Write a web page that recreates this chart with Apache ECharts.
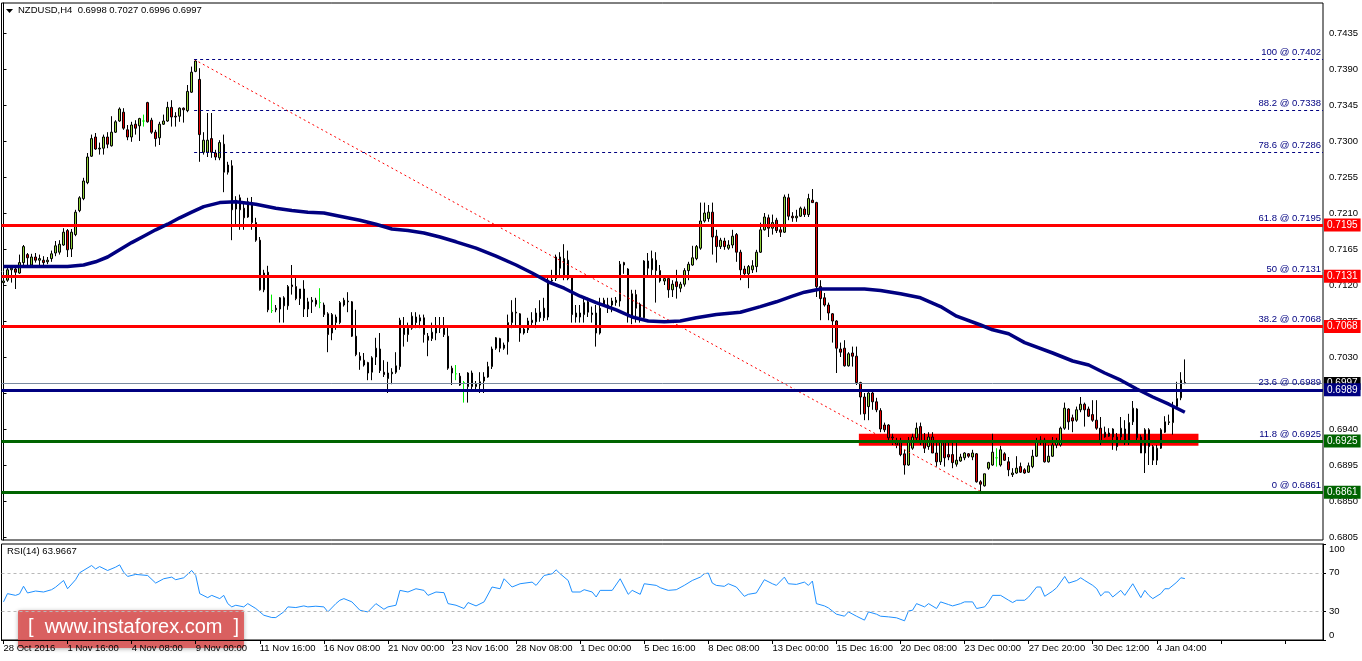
<!DOCTYPE html>
<html><head><meta charset="utf-8">
<script src="https://cdn.jsdelivr.net/npm/echarts@6/dist/echarts.min.js"></script>
<style>html,body{margin:0;padding:0;background:#fff}#c{width:1362px;height:661px}</style>
</head><body><div id="c"></div>
<script>
// ---- DATA ----
const opens = [.7123,.7126,.7139,.7140,.7135,.7148,.7158,.7145,.7155,.7151,.7151,.7149,.7153,.7160,.7161,.7170,.7188,.7165,.7183,.7213,.7228,.7248,.7281,.7305,.7290,.7291,.7305,.7294,.7311,.7325,.7336,.7314,.7305,.7321,.7319,.7325,.7348,.7326,.7311,.7304,.7321,.7325,.7342,.7331,.7331,.7341,.7338,.7361,.7387,.7377,.7286,.7286,.7303,.7285,.7279,.7296,.7261,.7269,.7215,.7229,.7216,.7205,.7223,.7198,.7176,.7114,.7136,.7088,.7089,.7090,.7104,.7094,.7120,.7118,.7103,.7115,.7090,.7099,.7101,.7098,.7095,.7084,.7083,.7073,.7073,.7095,.7099,.7099,.7056,.7031,.7026,.7023,.7011,.7030,.7040,.7011,.7003,.7009,.7011,.7018,.7068,.7058,.7066,.7080,.7079,.7079,.7056,.7053,.7060,.7069,.7066,.7056,.7016,.7009,.7006,.6998,.6993,.7010,.6993,.6995,.7000,.7005,.7018,.7041,.7053,.7041,.7049,.7073,.7086,.7084,.7060,.7064,.7073,.7074,.7086,.7079,.7080,.7126,.7128,.7155,.7130,.7151,.7129,.7080,.7085,.7083,.7099,.7085,.7085,.7060,.7095,.7091,.7095,.7098,.7100,.7148,.7140,.7081,.7108,.7096,.7079,.7150,.7139,.7151,.7138,.7125,.7128,.7114,.7124,.7116,.7121,.7138,.7145,.7153,.7166,.7200,.7203,.7211,.7181,.7168,.7175,.7166,.7170,.7183,.7161,.7140,.7134,.7139,.7143,.7161,.7189,.7204,.7191,.7201,.7189,.7186,.7229,.7206,.7204,.7206,.7215,.7208,.7226,.7223,.7118,.7104,.7095,.7084,.7075,.7040,.7041,.7019,.7035,.7031,.6998,.6980,.6968,.6985,.6974,.6963,.6945,.6945,.6930,.6925,.6923,.6909,.6895,.6916,.6929,.6943,.6924,.6918,.6930,.6910,.6899,.6923,.6908,.6908,.6896,.6900,.6904,.6909,.6905,.6909,.6874,.6869,.6891,.6895,.6904,.6895,.6909,.6899,.6883,.6885,.6893,.6889,.6886,.6893,.6906,.6923,.6926,.6899,.6906,.6920,.6920,.6941,.6965,.6954,.6951,.6964,.6971,.6965,.6958,.6951,.6941,.6930,.6935,.6930,.6930,.6930,.6923,.6923,.6949,.6965,.6930,.6910,.6939,.6918,.6901,.6916,.6936,.6948,.6948,.6968,.6979,.6998];
const highs = [.7129,.7145,.7144,.7145,.7158,.7170,.7160,.7159,.7160,.7158,.7156,.7155,.7163,.7175,.7176,.7191,.7190,.7190,.7214,.7231,.7254,.7285,.7308,.7310,.7298,.7308,.7311,.7331,.7326,.7342,.7341,.7320,.7324,.7326,.7329,.7333,.7349,.7329,.7314,.7324,.7333,.7349,.7351,.7336,.7342,.7342,.7370,.7393,.7402,.7391,.7311,.7335,.7335,.7289,.7301,.7308,.7274,.7276,.7231,.7233,.7223,.7229,.7230,.7204,.7180,.7139,.7144,.7108,.7095,.7105,.7106,.7120,.7145,.7130,.7114,.7126,.7104,.7105,.7104,.7116,.7098,.7086,.7085,.7083,.7100,.7104,.7111,.7100,.7089,.7036,.7035,.7024,.7031,.7054,.7060,.7026,.7024,.7016,.7036,.7079,.7080,.7073,.7086,.7086,.7083,.7083,.7060,.7073,.7080,.7080,.7080,.7068,.7019,.7020,.7010,.7000,.7011,.7013,.7000,.7011,.7011,.7024,.7043,.7055,.7054,.7048,.7083,.7101,.7104,.7085,.7068,.7079,.7086,.7091,.7101,.7104,.7131,.7139,.7158,.7161,.7171,.7163,.7130,.7095,.7095,.7104,.7104,.7093,.7095,.7104,.7104,.7104,.7104,.7105,.7150,.7149,.7141,.7114,.7114,.7098,.7151,.7160,.7163,.7161,.7145,.7130,.7130,.7126,.7139,.7124,.7141,.7149,.7169,.7170,.7223,.7223,.7220,.7223,.7189,.7179,.7179,.7176,.7189,.7185,.7164,.7144,.7145,.7151,.7164,.7198,.7210,.7208,.7208,.7204,.7193,.7233,.7234,.7211,.7214,.7218,.7218,.7234,.7240,.7224,.7126,.7110,.7098,.7085,.7076,.7048,.7051,.7036,.7043,.7043,.6999,.6985,.6986,.6989,.6979,.6966,.6948,.6946,.6934,.6929,.6929,.6914,.6930,.6934,.6948,.6948,.6935,.6936,.6936,.6923,.6924,.6926,.6923,.6924,.6924,.6909,.6911,.6910,.6914,.6910,.6876,.6884,.6899,.6934,.6916,.6919,.6911,.6905,.6891,.6906,.6898,.6891,.6898,.6914,.6929,.6931,.6929,.6920,.6930,.6929,.6943,.6973,.6966,.6958,.6968,.6980,.6973,.6968,.6976,.6976,.6955,.6943,.6941,.6941,.6935,.6955,.6951,.6959,.6975,.6966,.6933,.6941,.6941,.6920,.6920,.6941,.6956,.6958,.6974,.6999,.7011,.7027];
const lows = [.7118,.7124,.7123,.7115,.7134,.7145,.7144,.7144,.7148,.7145,.7144,.7146,.7149,.7156,.7158,.7169,.7155,.7155,.7181,.7211,.7226,.7246,.7280,.7289,.7283,.7283,.7291,.7293,.7310,.7324,.7314,.7301,.7299,.7308,.7300,.7318,.7323,.7309,.7293,.7295,.7320,.7324,.7318,.7318,.7324,.7323,.7336,.7360,.7386,.7274,.7283,.7280,.7279,.7276,.7276,.7236,.7258,.7176,.7195,.7189,.7189,.7204,.7189,.7174,.7113,.7111,.7086,.7085,.7086,.7073,.7073,.7089,.7108,.7101,.7095,.7080,.7080,.7085,.7093,.7091,.7080,.7036,.7051,.7064,.7071,.7093,.7086,.7055,.7031,.7014,.7018,.7001,.7001,.7020,.7010,.7005,.6985,.6996,.7009,.7014,.7043,.7049,.7064,.7066,.7066,.7048,.7031,.7050,.7051,.7060,.7055,.7014,.6995,.7001,.6994,.6973,.6973,.6990,.6989,.6985,.6985,.7004,.7015,.7039,.7036,.7039,.7033,.7066,.7068,.7049,.7058,.7060,.7070,.7066,.7074,.7075,.7076,.7120,.7125,.7129,.7126,.7126,.7073,.7073,.7073,.7073,.7080,.7073,.7043,.7058,.7093,.7085,.7086,.7094,.7093,.7134,.7073,.7071,.7073,.7073,.7076,.7130,.7130,.7098,.7123,.7120,.7104,.7105,.7103,.7111,.7118,.7126,.7144,.7151,.7164,.7198,.7199,.7158,.7148,.7165,.7164,.7164,.7166,.7149,.7126,.7130,.7116,.7135,.7136,.7160,.7188,.7180,.7183,.7185,.7180,.7185,.7201,.7199,.7199,.7205,.7205,.7205,.7223,.7105,.7076,.7093,.7076,.7048,.7010,.7030,.7018,.7018,.7018,.6995,.6958,.6951,.6951,.6964,.6961,.6936,.6936,.6926,.6920,.6916,.6906,.6883,.6894,.6914,.6926,.6920,.6910,.6914,.6910,.6893,.6895,.6893,.6901,.6891,.6893,.6899,.6901,.6904,.6901,.6873,.6861,.6868,.6889,.6894,.6893,.6893,.6900,.6881,.6880,.6884,.6885,.6884,.6885,.6891,.6905,.6920,.6898,.6898,.6905,.6916,.6918,.6939,.6939,.6936,.6949,.6961,.6943,.6955,.6949,.6939,.6920,.6929,.6930,.6914,.6913,.6923,.6920,.6920,.6945,.6926,.6910,.6885,.6895,.6895,.6895,.6915,.6935,.6945,.6933,.6966,.6976,.6996];
const closes = [.7125,.7139,.7141,.7136,.7148,.7168,.7154,.7155,.7151,.7153,.7148,.7151,.7159,.7169,.7171,.7186,.7164,.7186,.7211,.7229,.7250,.7280,.7303,.7290,.7291,.7305,.7296,.7311,.7324,.7340,.7316,.7305,.7320,.7316,.7328,.7325,.7324,.7311,.7303,.7321,.7325,.7342,.7330,.7330,.7341,.7339,.7362,.7386,.7400,.7308,.7301,.7301,.7286,.7280,.7298,.7261,.7270,.7214,.7226,.7214,.7204,.7224,.7198,.7176,.7114,.7135,.7089,.7088,.7091,.7104,.7094,.7118,.7118,.7103,.7115,.7090,.7099,.7101,.7096,.7098,.7083,.7058,.7060,.7080,.7098,.7101,.7100,.7056,.7033,.7026,.7020,.7010,.7029,.7041,.7013,.7008,.7010,.7011,.7019,.7076,.7058,.7066,.7081,.7073,.7075,.7058,.7051,.7061,.7068,.7066,.7058,.7016,.7010,.7009,.6995,.6998,.7010,.6993,.6996,.6999,.7005,.7018,.7040,.7054,.7041,.7045,.7073,.7086,.7085,.7060,.7065,.7075,.7076,.7085,.7079,.7091,.7126,.7125,.7155,.7141,.7153,.7128,.7083,.7085,.7080,.7098,.7086,.7083,.7060,.7091,.7101,.7095,.7100,.7101,.7146,.7145,.7080,.7109,.7091,.7080,.7150,.7141,.7153,.7138,.7125,.7128,.7114,.7121,.7118,.7121,.7138,.7146,.7154,.7168,.7200,.7210,.7211,.7180,.7168,.7176,.7168,.7170,.7181,.7161,.7139,.7134,.7143,.7144,.7161,.7189,.7205,.7191,.7198,.7188,.7186,.7230,.7206,.7204,.7206,.7216,.7208,.7228,.7223,.7118,.7103,.7095,.7085,.7075,.7041,.7036,.7019,.7034,.7031,.6998,.6980,.6959,.6985,.6974,.6964,.6940,.6939,.6929,.6929,.6920,.6908,.6895,.6924,.6930,.6941,.6923,.6916,.6930,.6910,.6899,.6923,.6904,.6905,.6898,.6901,.6905,.6910,.6906,.6910,.6874,.6871,.6884,.6898,.6911,.6904,.6914,.6901,.6889,.6885,.6891,.6886,.6885,.6894,.6906,.6924,.6926,.6899,.6906,.6920,.6924,.6941,.6966,.6949,.6950,.6964,.6971,.6964,.6956,.6951,.6941,.6923,.6936,.6931,.6940,.6918,.6941,.6940,.6948,.6966,.6929,.6910,.6939,.6918,.6901,.6916,.6939,.6949,.6949,.6968,.6978,.7001,.6997];
// moving average: [bar, value]
const maPoints = [[0,.7143],[8,.7143],[16,.7143],[20,.7145],[23,.7149],[26,.7155],[29,.7164],[32,.7173],[35,.7181],[38,.7189],[41,.7196],[44,.7204],[47,.7211],[50,.7218],[54,.7223],[58,.7224],[63,.7221],[68,.7216],[72,.7213],[76,.7211],[80,.7210],[84,.7206],[89,.7201],[93,.7196],[97,.7190],[101,.7188],[105,.7185],[109,.7180],[113,.7174],[118,.7166],[123,.7156],[128,.7145],[132,.7135],[136,.7124],[140,.7116],[144,.7106],[148,.7098],[153,.7089],[157,.7080],[161,.7075],[165,.7074],[169,.7075],[173,.7079],[178,.7083],[184,.7086],[189,.7093],[193,.7099],[197,.7106],[200,.7111],[204,.7115],[209,.7115],[215,.7115],[219,.7113],[224,.7109],[229,.7104],[234,.7093],[238,.7081],[244,.7070],[247,.7064],[251,.7059],[255,.7048],[262,.7035],[267,.7025],[271,.7020],[275,.7010],[279,.7001],[283,.6990],[287,.6980],[291,.6971],[295,.6961]];
// RSI(14): [bar, value]
const rsiPoints = [[0,39.7],[1,48.3],[3,46.5],[4,48],[5,56],[6,49],[8,51],[10,50],[12,52.4],[13,55],[15,62],[16,53.4],[18,62.8],[19,70],[22,77.6],[23,74],[24,76.5],[26,72.4],[28,75.9],[29,78.3],[30,70.7],[31,66.2],[33,68.3],[36,67.2],[38,59.3],[40,63.8],[42,65.5],[43,62.8],[45,64.8],[47,72.4],[48,67.2],[49,48.3],[51,44.1],[52,46.5],[54,43.1],[55,46.5],[56,37.9],[57,34.5],[58,36.2],[60,34.5],[61,37.9],[63,32.8],[65,25.8],[67,23.4],[68,23.4],[70,29.3],[71,34.5],[73,33.8],[75,35.5],[76,34.5],[78,35.2],[80,34.5],[81,29.3],[83,37.9],[84,41.4],[85,43.1],[87,39.7],[89,31],[90,30],[91,29.3],[93,37.9],[95,32],[96,34.5],[98,36.2],[99,51.7],[101,50],[103,53.4],[105,51.7],[106,46.5],[108,50],[110,49.3],[111,37.9],[113,36.2],[115,32.8],[116,39],[118,35.5],[120,39.7],[122,55.2],[124,53.4],[125,63.8],[127,55.2],[129,58.6],[132,60.3],[133,56.9],[135,67.2],[137,69],[138,73.1],[139,69],[141,62],[142,50],[144,50],[145,52.4],[147,50],[148,44.8],[149,51.7],[152,51.7],[154,63.8],[156,47.6],[157,51.7],[159,47.6],[160,58.6],[163,56.9],[164,54.5],[166,51.7],[168,52.4],[170,56.9],[172,62],[174,65.5],[175,69],[176,69.7],[177,59.3],[178,56.9],[180,55.9],[181,58.6],[183,55.2],[185,45.5],[186,47.6],[188,49],[190,62.8],[192,58.6],[193,56.9],[195,65.5],[196,58.6],[198,57.9],[200,60.3],[201,56.9],[202,61.4],[203,37.9],[205,35.5],[206,33.4],[208,26.9],[210,24.8],[211,29.3],[213,24.8],[215,20.7],[216,29.3],[218,26.9],[219,24.8],[221,24.1],[223,23.1],[225,20],[226,30.3],[227,31],[228,37.9],[230,34.5],[231,37.9],[233,32.8],[234,39.7],[236,36.9],[237,35.5],[239,37.9],[240,39.7],[242,39.7],[243,32.8],[245,34.5],[246,39.7],[247,46.5],[249,46.5],[251,41.4],[252,39],[253,41.4],[255,41.4],[256,44.8],[258,55.2],[259,55.2],[260,45.5],[262,51],[263,54.5],[264,60.3],[265,66.2],[266,59.3],[268,62],[269,64.8],[270,62],[272,56.9],[273,53.4],[274,45.9],[275,50],[276,50],[277,44.8],[279,51.7],[280,46.5],[282,58.6],[284,44.1],[285,51.7],[286,46.5],[287,43.1],[289,48.3],[290,53.4],[291,53.4],[293,60.3],[294,64.8],[295,63.97]];
const xTickLabels = ['28 Oct 2016','1 Nov 16:00','4 Nov 08:00','9 Nov 00:00','11 Nov 16:00','16 Nov 08:00','21 Nov 00:00','23 Nov 16:00','28 Nov 08:00','1 Dec 00:00','5 Dec 16:00','8 Dec 08:00','13 Dec 00:00','15 Dec 16:00','20 Dec 08:00','23 Dec 00:00','27 Dec 20:00','30 Dec 12:00','4 Jan 04:00'];
const priceTicks = [0.6805,0.6850,0.6895,0.6940,0.6985,0.7030,0.7075,0.7120,0.7165,0.7210,0.7255,0.7300,0.7345,0.7390,0.7435];
const rsiTicks = [0,30,70,100];
const rsiLevels = [70,30];
const fibPct = ['100','88.2','78.6','61.8','50','38.2','23.6','11.8','0'];
const fibLevels = [0.7402,0.7338,0.7286,0.7195,0.7131,0.7068,0.6989,0.6925,0.6861];
const resistanceLevels = [0.7195,0.7131,0.7068];
const pivotLevel = 0.6989;
const supportLevels = [0.6925,0.6861];
const bidLevel = 0.6997;
const header = ['NZDUSD,H4', 0.6998, 0.7027, 0.6996, 0.6997];
const rsiLabel = 'RSI(14) 63.9667';
const zone = {fromBar: 213.6, toBar: 298.4, high: 0.6934, low: 0.6919};
const trend = [[47.6, 0.7402],[244.3, 0.6861]];
const watermark = '[  www.instaforex.com  ]';

// ---- CHART ----
const N = 330; // bar slots incl. empty space on the right
const cats = Array.from({length: N}, (_, i) => String(i));
const candles = opens.map((o, i) => [o, closes[i], lows[i], highs[i]]);
const FONT = 'Liberation Sans';
const f4 = v => Number(v).toFixed(4);
const txt = {fontFamily: FONT, fontSize: 9.5, color: '#000'};
const X0 = -0.5, X1 = N - 0.5;

// full-width horizontal level with a coloured price tag on the axis
const level = (v, color, width, bg) => [
  {coord: [X0, v], lineStyle: {color: color, width: width, type: 'solid'},
   label: {show: true, position: 'end', distance: 1, formatter: f4(v),
     backgroundColor: bg, color: '#fff', padding: [2, 3, 1, 3], fontFamily: FONT, fontSize: 10}},
  {coord: [X1, v]}
];
const levelLines = [];
levelLines.push(level(bidLevel, '#7a8aa0', 1, '#000'));
resistanceLevels.forEach(v => levelLines.push(level(v, '#ff0000', 3, '#ff0000')));
levelLines.push(level(pivotLevel, '#000080', 3, '#000080'));
supportLevels.forEach(v => levelLines.push(level(v, '#006400', 3, '#006400')));

const fibLines = fibLevels.map((v, k) => [
  {coord: [trend[0][0], v], lineStyle: {color: '#000080', width: 1, type: [3, 3]},
   label: {show: true, position: 'insideEndTop', distance: 2, formatter: fibPct[k] + ' @ ' + f4(v),
     color: '#000080', fontFamily: FONT, fontSize: 9.5}},
  {coord: [X1, v]}
]);

const option = {
  animation: false,
  backgroundColor: '#fff',
  grid: [
    {left: 1.5, top: 3, width: 1321.5, height: 537, show: true, borderColor: '#000', borderWidth: 1, backgroundColor: '#fff'},
    {left: 1.5, top: 544, width: 1321.5, height: 96, show: true, borderColor: '#000', borderWidth: 1, backgroundColor: '#fff'}
  ],
  xAxis: [
    {type: 'category', gridIndex: 0, data: cats, boundaryGap: true, show: false},
    {type: 'value', gridIndex: 0, min: X0, max: X1, show: false},
    {type: 'category', gridIndex: 1, data: cats, boundaryGap: true,
     axisLine: {lineStyle: {color: '#000'}},
     axisTick: {show: true, alignWithLabel: true, interval: i => i % 16 === 0, length: 4, lineStyle: {color: '#000'}},
     axisLabel: Object.assign({interval: i => i % 16 === 0, formatter: (v, i) => xTickLabels[i / 16] || '',
       align: 'left', margin: 3}, txt)}
  ],
  yAxis: [
    {type: 'value', gridIndex: 0, position: 'right', min: 0.680125, max: 0.74725, scale: true,
     splitLine: {show: false},
     axisLine: {show: true, lineStyle: {color: '#000'}},
     axisTick: {show: true, customValues: priceTicks, length: 3, lineStyle: {color: '#000'}},
     axisLabel: Object.assign({customValues: priceTicks, formatter: f4, margin: 6}, txt)},
    {type: 'value', gridIndex: 1, position: 'right', min: 0, max: 100,
     splitLine: {show: false},
     axisLine: {show: true, lineStyle: {color: '#000'}},
     axisTick: {show: true, customValues: rsiTicks, length: 3, lineStyle: {color: '#000'}},
     axisLabel: Object.assign({customValues: rsiTicks, margin: 6,
       verticalAlignMaxLabel: 'top', verticalAlignMinLabel: 'bottom'}, txt)}
  ],
  series: [
    {name: 'zone', type: 'line', xAxisIndex: 1, yAxisIndex: 0, data: [], z: 1, silent: true,
     markArea: {silent: true, itemStyle: {color: '#ff0000'},
       data: [[{coord: [zone.fromBar, zone.high]}, {coord: [zone.toBar, zone.low]}]]}},
    {name: 'NZDUSD', type: 'candlestick', xAxisIndex: 0, yAxisIndex: 0, data: candles, z: 2,
     barWidth: 2, silent: true,
     itemStyle: {color: '#8fd13a', color0: '#e00000', borderColor: '#000', borderColor0: '#000',
       borderColorDoji: '#00ee00', borderWidth: 1}},
    {name: 'fib', type: 'line', xAxisIndex: 1, yAxisIndex: 0, data: [], z: 3, silent: true,
     markLine: {silent: true, symbol: ['none', 'none'], animation: false, data: fibLines}},
    {name: 'trend', type: 'line', xAxisIndex: 1, yAxisIndex: 0, data: trend, z: 3, silent: true,
     symbol: 'none', lineStyle: {color: '#ff0000', width: 1, type: [2, 3]}},
    {name: 'levels', type: 'line', xAxisIndex: 1, yAxisIndex: 0, data: [], z: 4, silent: true,
     markLine: {silent: true, symbol: ['none', 'none'], animation: false, data: levelLines}},
    {name: 'MA', type: 'line', xAxisIndex: 1, yAxisIndex: 0, data: maPoints, z: 5, silent: true,
     symbol: 'none', lineStyle: {color: '#000080', width: 3.5}},
    {name: 'RSI', type: 'line', xAxisIndex: 2, yAxisIndex: 1, data: rsiPoints, silent: true,
     symbol: 'none', lineStyle: {color: '#1e90ff', width: 1},
     markLine: {silent: true, symbol: ['none', 'none'], animation: false, label: {show: false},
       lineStyle: {color: '#b8b8b8', type: [3, 3], width: 1},
       data: rsiLevels.map(v => ({yAxis: v}))}}
  ],
  graphic: [
    {type: 'polygon', shape: {points: [[6, 9], [13, 9], [9.5, 13]]}, style: {fill: '#000'}},
    {type: 'text', left: 18, top: 5, style: {text: header[0] + '  ' + header.slice(1).map(f4).join(' '),
      fill: '#000', font: '9.5px "Liberation Sans"'}},
    {type: 'text', left: 7, top: 546, style: {text: rsiLabel, fill: '#000', font: '9.5px "Liberation Sans"'}},
    {type: 'group', left: 18, top: 610, children: [
      {type: 'rect', shape: {x: 0, y: 0, width: 226, height: 38, r: 2},
       style: {fill: 'rgba(222,84,84,0.88)', shadowBlur: 4, shadowColor: 'rgba(0,0,0,0.35)', shadowOffsetY: 1}},
      {type: 'text', left: 10, top: 7, style: {text: watermark, fill: '#fff', font: '20px "Liberation Sans"'}}
    ]}
  ]
};
echarts.init(document.getElementById('c'), null, {renderer: 'canvas'}).setOption(option);
</script>
</body></html>
